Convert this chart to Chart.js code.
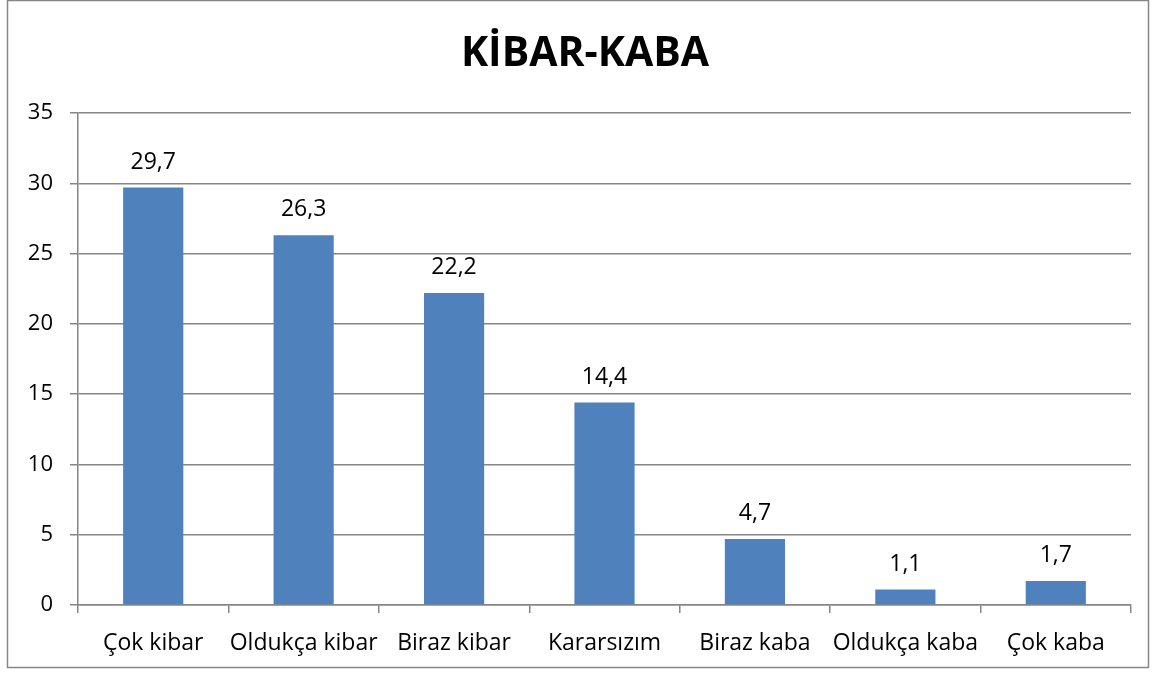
<!DOCTYPE html>
<html>
<head>
<meta charset="utf-8">
<script src="https://cdn.jsdelivr.net/npm/chart.js@4"></script>
<style>
  html, body { margin: 0; padding: 0; background: #fff; }
  #wrap { width: 1158px; height: 674px; }
</style>
</head>
<body>
<div id="wrap"><canvas id="chart" width="1158" height="674"></canvas></div>
<script>
const categories = ['Çok kibar', 'Oldukça kibar', 'Biraz kibar', 'Kararsızım', 'Biraz kaba', 'Oldukça kaba', 'Çok kaba'];
const values = [29.7, 26.3, 22.2, 14.4, 4.7, 1.1, 1.7];
const yTicks = [0, 5, 10, 15, 20, 25, 30, 35];
const chartTitle = 'KİBAR-KABA';

const FONT = "'Open Sans', sans-serif";
const GRID = '#868686';

// outer frame and title
const framePlugin = {
    id: 'frame',
    afterDraw(chart) {
        const c = chart.ctx;
        c.save();
        c.strokeStyle = GRID;
        c.lineWidth = 1.5;
        c.strokeRect(7.5, 0.5, 1141, 667);
        c.fillStyle = '#000';
        c.font = 'bold 41px ' + FONT;
        c.textAlign = 'center';
        c.textBaseline = 'alphabetic';
        c.fillText(chartTitle, 585, 66);
        c.restore();
    }
};

// value labels above bars, with comma decimals
const valueLabels = {
    id: 'valueLabels',
    afterDatasetsDraw(chart) {
        const c = chart.ctx;
        const meta = chart.getDatasetMeta(0);
        c.save();
        c.fillStyle = '#000';
        c.font = '23px ' + FONT;
        c.textAlign = 'center';
        c.textBaseline = 'alphabetic';
        meta.data.forEach((bar, i) => {
            c.fillText(values[i].toFixed(1).replace('.', ','), bar.x, bar.y - 19);
        });
        c.restore();
    }
};

const ctx = document.getElementById('chart').getContext('2d');
new Chart(ctx, {
    type: 'bar',
    data: {
        labels: categories,
        datasets: [{
            data: values,
            backgroundColor: '#4F81BD',
            barPercentage: 0.4,
            categoryPercentage: 1
        }]
    },
    options: {
        responsive: false,
        animation: false,
        layout: { padding: { left: 8, right: 27, top: 113, bottom: 0 } },
        plugins: {
            legend: { display: false },
            tooltip: { enabled: false },
            title: { display: false }
        },
        scales: {
            x: {
                grid: {
                    offset: true,
                    drawOnChartArea: false,
                    drawTicks: true,
                    tickLength: 8,
                    color: GRID,
                    lineWidth: 1.5
                },
                border: { color: GRID, width: 1.5 },
                ticks: {
                    color: '#000',
                    font: { family: FONT, size: 23 },
                    padding: 17,
                    maxRotation: 0,
                    autoSkip: false
                },
                afterFit(scale) { scale.height = 69; }
            },
            y: {
                min: 0,
                max: 35,
                afterBuildTicks(scale) {
                    scale.ticks = yTicks.map(v => ({ value: v }));
                },
                grid: {
                    color: GRID,
                    lineWidth: 1.5,
                    tickLength: 8
                },
                border: { color: GRID, width: 1.5 },
                ticks: {
                    color: '#000',
                    font: { family: FONT, size: 22 },
                    padding: 17
                },
                afterFit(scale) { scale.width = 70; }
            }
        }
    },
    plugins: [framePlugin, valueLabels]
});
</script>
</body>
</html>
